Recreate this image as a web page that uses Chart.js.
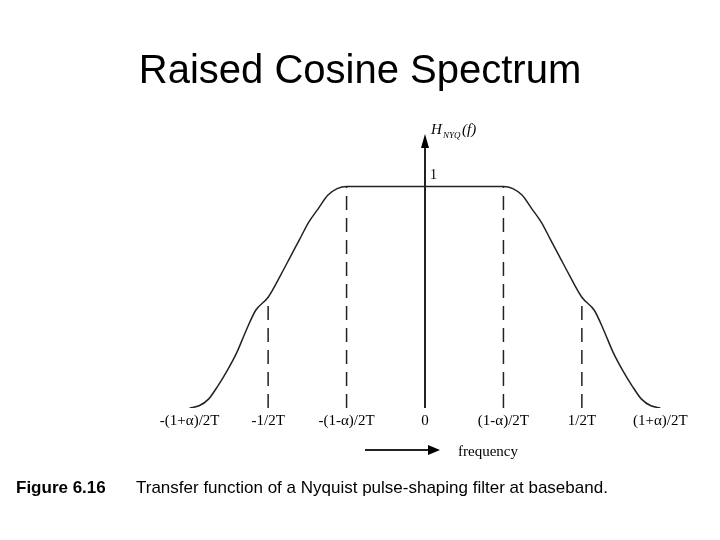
<!DOCTYPE html>
<html><head><meta charset="utf-8">
<script src="https://cdn.jsdelivr.net/npm/chart.js@4/dist/chart.umd.min.js"></script>
<style>html,body{margin:0;padding:0;background:#fff}canvas{display:block}</style>
</head><body>
<canvas id="c" width="720" height="540" style="width:720px;height:540px"></canvas>
<script>
const freqX = [-0.75,-0.72,-0.69,-0.66,-0.63,-0.6,-0.57,-0.54,-0.5,-0.46,-0.43,-0.4,-0.37,-0.34,-0.31,-0.28,-0.25,0,0.25,0.28,0.31,0.34,0.37,0.4,0.43,0.46,0.5,0.54,0.57,0.6,0.63,0.66,0.69,0.72,0.75];
const gainY = [0,0.01,0.04,0.1,0.17,0.25,0.35,0.44,0.5,0.6,0.68,0.76,0.84,0.9,0.96,0.99,1,1,1,0.99,0.96,0.9,0.84,0.76,0.68,0.6,0.5,0.44,0.35,0.25,0.17,0.1,0.04,0.01,0];
const tickX = [-0.75,-0.5,-0.25,0,0.25,0.5,0.75];
const tickLabels = ["-(1+\u03b1)/2T","-1/2T","-(1-\u03b1)/2T","0","(1-\u03b1)/2T","1/2T","(1+\u03b1)/2T"];
const dashX = [-0.5,-0.25,0.25,0.5];
const dashTop = [0.5,1,1,0.5];

const deco = {id:'deco', afterDraw(ch){
  const c=ch.ctx, xs=ch.scales.x, ys=ch.scales.y;
  c.save();
  c.fillStyle='#000'; c.font='40px "Liberation Sans"'; c.textAlign='center'; c.textBaseline='alphabetic';
  c.fillText('Raised Cosine Spectrum',360,83);
  c.strokeStyle='#222'; c.lineWidth=1.5; c.setLineDash([14,8]);
  dashX.forEach((v,i)=>{const x=xs.getPixelForValue(v); c.beginPath(); c.moveTo(x,ys.getPixelForValue(0)); c.lineTo(x,ys.getPixelForValue(dashTop[i])); c.stroke();});
  c.setLineDash([]);
  const x0=xs.getPixelForValue(0);
  c.lineWidth=2; c.beginPath(); c.moveTo(x0,ys.getPixelForValue(0)); c.lineTo(x0,138); c.stroke();
  c.beginPath(); c.moveTo(x0-4,148); c.lineTo(x0,134); c.lineTo(x0+4,148); c.closePath(); c.fill();
  c.font='italic 15px "Liberation Serif"'; c.textAlign='left';
  c.fillText('H',431,134); c.font='italic 9px "Liberation Serif"'; c.fillText('NYQ',443,138);
  c.font='italic 15px "Liberation Serif"'; c.fillText('(f)',462,134);
  c.font='14px "Liberation Serif"'; c.fillText('1',430,179);
  c.textAlign='center'; c.font='15px "Liberation Serif"';
  tickX.forEach((v,i)=>c.fillText(tickLabels[i],xs.getPixelForValue(v),425));
  c.lineWidth=2; c.beginPath(); c.moveTo(365,450); c.lineTo(432,450); c.stroke();
  c.beginPath(); c.moveTo(428,445); c.lineTo(440,450); c.lineTo(428,455); c.closePath(); c.fill();
  c.textAlign='left'; c.fillText('frequency',458,456);
  c.font='bold 17px "Liberation Sans"'; c.fillText('Figure 6.16',16,493);
  c.font='17px "Liberation Sans"'; c.fillText('Transfer function of a Nyquist pulse-shaping filter at baseband.',136,493);
  c.restore();
}};

new Chart(document.getElementById('c'),{
  type:'line',
  data:{datasets:[{data:freqX.map((x,i)=>({x,y:gainY[i]})),borderColor:'#222',borderWidth:1.5,pointRadius:0,cubicInterpolationMode:'monotone',fill:false}]},
  options:{responsive:false,animation:false,maintainAspectRatio:false,devicePixelRatio:1,
    layout:{padding:{left:174,right:44,top:131,bottom:132}},
    plugins:{legend:{display:false},tooltip:{enabled:false}},
    scales:{x:{type:'linear',min:-0.8,max:0.8,display:false},y:{min:0,max:1.25,display:false}}},
  plugins:[deco]
});
</script>
</body></html>
